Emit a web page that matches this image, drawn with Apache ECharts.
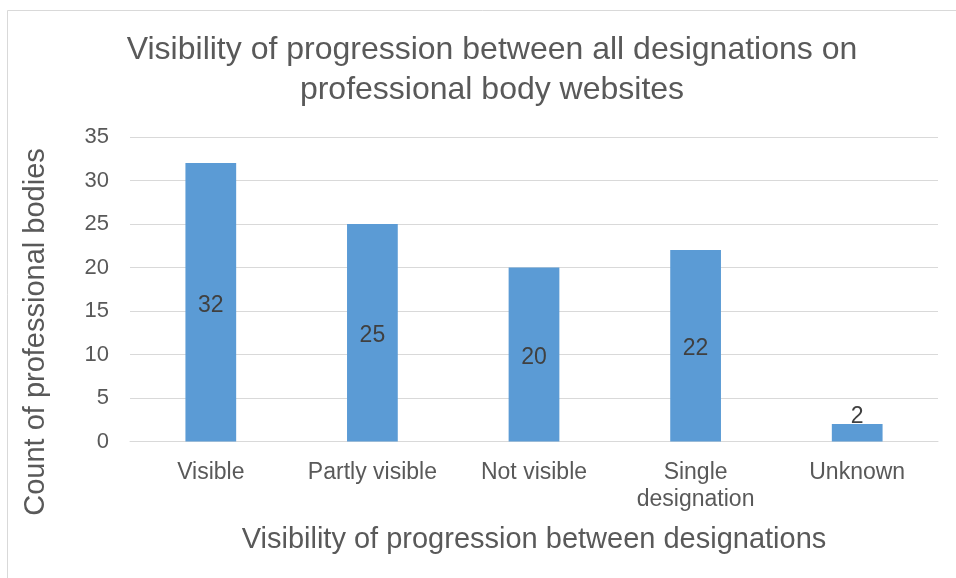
<!DOCTYPE html>
<html>
<head>
<meta charset="utf-8">
<script src="https://cdn.jsdelivr.net/npm/echarts@6/dist/echarts.min.js"></script>
<style>
  html, body { margin: 0; padding: 0; background: #fff; }
  #chart { width: 956px; height: 578px; }
</style>
</head>
<body>
<div id="chart"></div>
<script>
// Categories and counts of professional bodies
const categories = ['Visible', 'Partly visible', 'Not visible', 'Single\ndesignation', 'Unknown'];
const counts = [32, 25, 20, 22, 2];
const yTicks = [0, 5, 10, 15, 20, 25, 30, 35];

const chart = echarts.init(document.getElementById('chart'), null, { renderer: 'canvas' });

const fontFamily = '"Liberation Sans", Arial, sans-serif';
const textGray = '#595959';

const barData = counts.map(function (v) {
  // very short bars get their label just above the bar
  if (v < 4) {
    return { value: v, label: { position: 'top', distance: -4, offset: [0, 0] } };
  }
  return v;
});

chart.setOption({
  animation: false,
  backgroundColor: '#ffffff',
  graphic: [{
    type: 'rect',
    shape: { x: 7.5, y: 10.5, width: 1000, height: 700 },
    style: { fill: 'none', stroke: '#d9d9d9', lineWidth: 1 },
    silent: true,
    z: -1
  }, {
    // vertical axis title, centred on the plot plus category label band
    type: 'text',
    x: 36,
    y: 332,
    rotation: Math.PI / 2,
    style: {
      text: 'Count of professional bodies',
      font: '29px "Liberation Sans", Arial, sans-serif',
      fill: textGray,
      align: 'center',
      verticalAlign: 'middle'
    },
    silent: true
  }],
  title: {
    text: 'Visibility of progression between all designations on\nprofessional body websites',
    left: 487,
    textAlign: 'center',
    top: 25,
    textStyle: {
      fontFamily: fontFamily,
      fontSize: 32,
      fontWeight: 'normal',
      color: textGray,
      lineHeight: 40
    }
  },
  grid: {
    left: 130,
    right: 18,
    top: 137,
    bottom: 136.5,
    containLabel: false
  },
  xAxis: {
    type: 'category',
    data: categories,
    name: 'Visibility of progression between designations',
    nameLocation: 'middle',
    nameGap: 84,
    nameTextStyle: { fontFamily: fontFamily, fontSize: 29, color: textGray },
    axisLine: { show: true, lineStyle: { color: '#d9d9d9', width: 1 } },
    axisTick: { show: false },
    axisLabel: {
      fontFamily: fontFamily,
      fontSize: 23,
      color: textGray,
      margin: 18,
      lineHeight: 27,
      interval: 0
    }
  },
  yAxis: {
    type: 'value',
    min: yTicks[0],
    max: yTicks[yTicks.length - 1],
    interval: 5,
    axisLine: { show: false },
    axisTick: { show: false },
    axisLabel: {
      fontFamily: fontFamily,
      fontSize: 22,
      color: textGray,
      margin: 21
    },
    splitLine: { lineStyle: { color: '#d9d9d9', width: 1 } }
  },
  series: [{
    type: 'bar',
    data: barData,
    barWidth: '31.4%',
    itemStyle: { color: '#5b9bd5' },
    label: {
      show: true,
      position: 'inside',
      offset: [0, 3],
      fontFamily: fontFamily,
      fontSize: 23,
      color: '#404040'
    }
  }]
});
</script>
</body>
</html>
